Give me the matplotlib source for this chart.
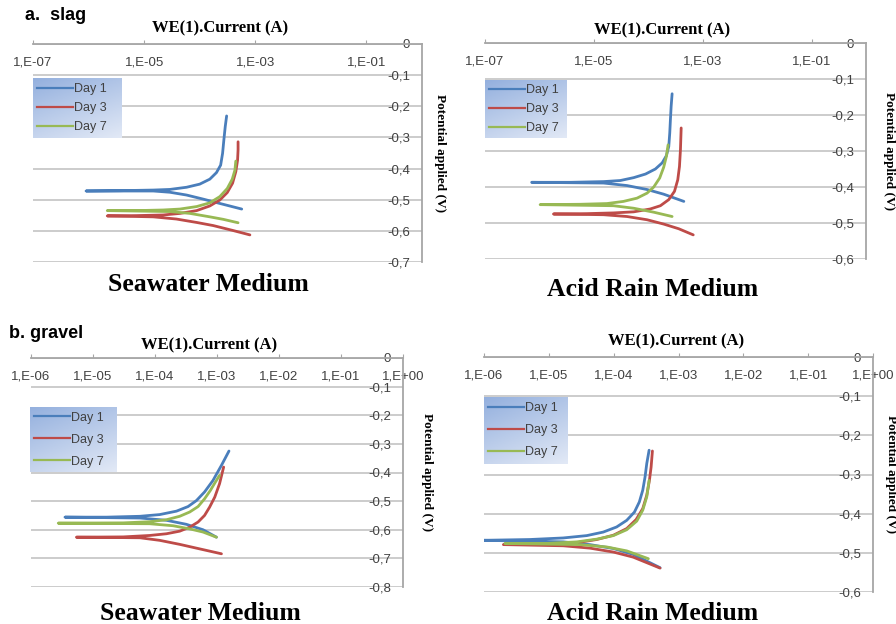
import numpy as np
import matplotlib.pyplot as plt
from matplotlib.lines import Line2D

# ---- data: current (A) and potential (V) ----
# each series runs cathodic end -> corrosion tip -> anodic end
days = ['Day 1', 'Day 3', 'Day 7']

# a. slag, seawater
a_sea_d1_i = [5.7e-4, 2.3e-4, 1.15e-4, 5.8e-5, 2.9e-5, 1.46e-5, 9.0e-7, 3.7e-6, 1.46e-5, 2.9e-5, 5.8e-5, 1.0e-4,
              1.52e-4, 2.0e-4, 2.38e-4, 2.58e-4, 2.72e-4, 2.88e-4, 3.05e-4]
a_sea_d1_e = [-0.530, -0.512, -0.498, -0.485, -0.476, -0.472, -0.472, -0.471, -0.469, -0.467, -0.460, -0.450,
              -0.434, -0.413, -0.389, -0.351, -0.308, -0.265, -0.231]
a_sea_d3_i = [8.0e-4, 4.0e-4, 1.75e-4, 8.8e-5, 3.8e-5, 1.46e-5, 2.17e-6, 7.3e-6, 2.2e-5, 4.4e-5, 8.8e-5, 1.52e-4,
              2.3e-4, 3.13e-4, 3.9e-4, 4.46e-4, 4.8e-4, 4.9e-4, 4.9e-4]
a_sea_d3_e = [-0.613, -0.599, -0.583, -0.573, -0.562, -0.555, -0.552, -0.551, -0.549, -0.544, -0.535, -0.520,
              -0.501, -0.477, -0.447, -0.410, -0.373, -0.340, -0.314]
a_sea_d7_i = [4.9e-4, 2.65e-4, 1.52e-4, 6.7e-5, 2.9e-5, 2.17e-6, 7.3e-6, 2.2e-5, 4.4e-5, 8.8e-5, 1.52e-4, 2.3e-4,
              3.13e-4, 3.85e-4, 4.3e-4, 4.46e-4]
a_sea_d7_e = [-0.574, -0.563, -0.555, -0.544, -0.538, -0.535, -0.535, -0.533, -0.530, -0.522, -0.510, -0.490,
              -0.464, -0.434, -0.405, -0.376]

# a. slag, acid rain
a_acid_d1_i = [4.5e-4, 1.92e-4, 9.5e-5, 4.07e-5, 1.51e-5, 7.2e-7, 3.7e-6, 1.51e-5, 3.06e-5, 5.4e-5, 8.9e-5, 1.35e-4,
               1.8e-4, 2.15e-4, 2.38e-4, 2.48e-4, 2.55e-4, 2.63e-4, 2.74e-4]
a_acid_d1_e = [-0.440, -0.420, -0.407, -0.396, -0.389, -0.387, -0.387, -0.385, -0.382, -0.374, -0.364, -0.350,
               -0.333, -0.313, -0.287, -0.250, -0.213, -0.176, -0.141]
a_acid_d3_i = [6.7e-4, 3.63e-4, 1.92e-4, 9.5e-5, 4.07e-5, 1.51e-5, 1.81e-6, 7.4e-6, 2.3e-5, 5.4e-5, 1.09e-4, 1.67e-4,
               2.38e-4, 3.03e-4, 3.48e-4, 3.74e-4, 3.9e-4, 4.02e-4]
a_acid_d3_e = [-0.533, -0.516, -0.503, -0.491, -0.482, -0.477, -0.475, -0.474, -0.472, -0.469, -0.461, -0.452,
               -0.435, -0.412, -0.380, -0.343, -0.296, -0.236]
a_acid_d7_i = [2.74e-4, 1.26e-4, 5.4e-5, 2.3e-5, 1.03e-6, 5.6e-6, 1.74e-5, 3.5e-5, 6.2e-5, 9.5e-5, 1.26e-4, 1.62e-4,
               1.92e-4, 2.15e-4, 2.31e-4]
a_acid_d7_e = [-0.482, -0.470, -0.459, -0.452, -0.449, -0.448, -0.446, -0.440, -0.431, -0.417, -0.400, -0.375,
               -0.345, -0.315, -0.283]

# b. gravel, seawater
b_sea_d1_i = [9.8e-4, 5.95e-4, 3.2e-4, 1.53e-4, 5.7e-5, 3.53e-6, 1.66e-5, 5.7e-5, 1.19e-4, 2.22e-4, 3.41e-4, 4.66e-4,
              6.3e-4, 8.6e-4, 1.18e-3, 1.56e-3]
b_sea_d1_e = [-0.626, -0.600, -0.581, -0.567, -0.559, -0.556, -0.556, -0.553, -0.547, -0.535, -0.519, -0.498,
              -0.468, -0.428, -0.375, -0.325]
b_sea_d3_i = [1.18e-3, 5.3e-4, 2.5e-4, 1.19e-4, 5.7e-5, 5.4e-6, 3.07e-5, 8.2e-5, 1.53e-4, 2.5e-4, 3.63e-4, 4.95e-4,
              6.3e-4, 7.6e-4, 9.2e-4, 1.1e-3, 1.28e-3]
b_sea_d3_e = [-0.684, -0.667, -0.651, -0.637, -0.628, -0.626, -0.625, -0.620, -0.614, -0.605, -0.591, -0.573,
              -0.550, -0.521, -0.486, -0.439, -0.381]
b_sea_d7_i = [9.8e-4, 5.95e-4, 3.63e-4, 1.96e-4, 8.2e-5, 2.75e-6, 3.07e-5, 8.2e-5, 1.53e-4, 2.5e-4, 3.63e-4, 4.95e-4,
              6.3e-4, 7.8e-4, 9.2e-4, 1.1e-3]
b_sea_d7_e = [-0.626, -0.608, -0.597, -0.586, -0.579, -0.577, -0.576, -0.572, -0.565, -0.553, -0.538, -0.519,
              -0.492, -0.463, -0.437, -0.410]

# b. gravel, acid rain
b_acid_d1_i = [5.2e-4, 2.0e-4, 9.9e-5, 4.3e-5, 1.67e-5, 1.0e-6, 5.1e-6, 1.67e-5, 3.85e-5, 6.9e-5, 1.11e-4, 1.59e-4,
               2.09e-4, 2.49e-4, 2.81e-4, 3.05e-4, 3.24e-4, 3.52e-4]
b_acid_d1_e = [-0.538, -0.504, -0.489, -0.479, -0.472, -0.468, -0.466, -0.462, -0.456, -0.447, -0.434, -0.417,
               -0.396, -0.370, -0.340, -0.306, -0.272, -0.238]
b_acid_d3_i = [5.2e-4, 2.0e-4, 9.9e-5, 4.3e-5, 1.67e-5, 1.99e-6, 9.3e-6, 2.7e-5, 5.5e-5, 9.9e-5, 1.59e-4, 2.22e-4,
               2.81e-4, 3.24e-4, 3.56e-4, 3.78e-4, 3.96e-4]
b_acid_d3_e = [-0.539, -0.511, -0.498, -0.488, -0.482, -0.479, -0.478, -0.474, -0.466, -0.455, -0.438, -0.415,
               -0.387, -0.353, -0.315, -0.281, -0.240]
b_acid_d7_i = [3.43e-4, 1.59e-4, 7.8e-5, 3.03e-5, 2.1e-6, 9.3e-6, 2.7e-5, 5.5e-5, 9.9e-5, 1.59e-4, 2.27e-4, 2.81e-4,
               3.24e-4, 3.52e-4]
b_acid_d7_e = [-0.515, -0.495, -0.485, -0.479, -0.476, -0.476, -0.472, -0.465, -0.456, -0.441, -0.419, -0.391,
               -0.357, -0.315]

# axis ticks
xt_a = [1e-7, 1e-5, 1e-3, 1e-1]
xl_a = ['1,E-07', '1,E-05', '1,E-03', '1,E-01']
xt_b = [1e-6, 1e-5, 1e-4, 1e-3, 1e-2, 1e-1, 1e0]
xl_b = ['1,E-06', '1,E-05', '1,E-04', '1,E-03', '1,E-02', '1,E-01', '1,E+00']
yt_07 = [0, -0.1, -0.2, -0.3, -0.4, -0.5, -0.6, -0.7]
yt_06 = [0, -0.1, -0.2, -0.3, -0.4, -0.5, -0.6]
yt_08 = [0, -0.1, -0.2, -0.3, -0.4, -0.5, -0.6, -0.7, -0.8]

# ---- figure ----
W, H = 896, 624
fig = plt.figure(figsize=(W / 100, H / 100), dpi=100)

def box(x0, y0, x1, y1):
    return [x0 / W, 1 - y1 / H, (x1 - x0) / W, (y1 - y0) / H]

def fxy(x, y):
    return x / W, 1 - y / H

colors = ['#4a7ebb', '#be4b48', '#98b954']
serif = 'Liberation Serif'
sans = 'Liberation Sans'
tick_col = '#404040'

panels = [
    dict(rect=box(33, 44, 422, 262), xlim=(1e-7, 1), yt=yt_07, xt=xt_a, xl=xl_a,
         series=[(a_sea_d1_i, a_sea_d1_e), (a_sea_d3_i, a_sea_d3_e), (a_sea_d7_i, a_sea_d7_e)],
         leg=box(33, 78, 122, 138), lsp=0.55, title=(220, 28), medium='Seawater Medium',
         med=(208, 285), ylx=1.046),
    dict(rect=box(485, 43, 866, 259), xlim=(1e-7, 1), yt=yt_06, xt=xt_a, xl=xl_a,
         series=[(a_acid_d1_i, a_acid_d1_e), (a_acid_d3_i, a_acid_d3_e), (a_acid_d7_i, a_acid_d7_e)],
         leg=box(485, 80, 567, 138), lsp=0.55, title=(662, 30), medium='Acid Rain Medium',
         med=(653, 289), ylx=1.06),
    dict(rect=box(31, 358, 403, 587), xlim=(1e-6, 1), yt=yt_08, xt=xt_b, xl=xl_b,
         series=[(b_sea_d1_i, b_sea_d1_e), (b_sea_d3_i, b_sea_d3_e), (b_sea_d7_i, b_sea_d7_e)],
         leg=box(30, 407, 116, 472), lsp=0.8, title=(209, 345), medium='Seawater Medium',
         med=(200, 614), ylx=1.065),
    dict(rect=box(484, 357, 873, 592), xlim=(1e-6, 1), yt=yt_06, xt=xt_b, xl=xl_b,
         series=[(b_acid_d1_i, b_acid_d1_e), (b_acid_d3_i, b_acid_d3_e), (b_acid_d7_i, b_acid_d7_e)],
         leg=box(484, 397, 567, 464), lsp=0.8, title=(676, 341), medium='Acid Rain Medium',
         med=(653, 614), ylx=1.046),
]

# legend background gradient (dark blue top-left -> pale bottom-right)
gx, gy = np.meshgrid(np.linspace(0, 1, 60), np.linspace(0, 1, 40))
g = (0.35 * gx + 0.65 * gy)[..., None]
c0 = np.array([148, 176, 222]) / 255
c1 = np.array([226, 233, 246]) / 255
grad = c0 * (1 - g) + c1 * g

for p in panels:
    ax = fig.add_axes(p['rect'])
    ax.patch.set_alpha(0)
    for (i, e), c in zip(p['series'], colors):
        ax.plot(i, e, color=c, lw=2.0, solid_joinstyle='round', solid_capstyle='round')

    ax.set_xscale('log')
    ax.set_xlim(*p['xlim'])
    ax.set_ylim(p['yt'][-1], 0)
    ax.set_xticks(p['xt'])
    ax.set_xticklabels(p['xl'])
    ax.xaxis.set_minor_locator(plt.NullLocator())
    ax.set_yticks(p['yt'])
    ax.set_yticklabels(['0' if v == 0 else f'{v:.1f}'.replace('.', ',') for v in p['yt']])

    for s in ['left', 'bottom']:
        ax.spines[s].set_visible(False)
    for s in ['top', 'right']:
        ax.spines[s].set_color('#a6a6a6')
        ax.spines[s].set_linewidth(1.3)
    ax.yaxis.grid(True, color='#c8c8c8', lw=1.3)
    ax.set_axisbelow(True)

    ax.tick_params(axis='x', which='major', top=True, bottom=False, labeltop=True,
                   labelbottom=False, direction='out', length=3, color='#a6a6a6',
                   pad=-16, labelsize=9.5, labelcolor=tick_col)
    ax.tick_params(axis='y', left=False, right=False, labelleft=False, labelright=True,
                   pad=-12, labelsize=9.5, labelcolor=tick_col)
    plt.setp(ax.get_xticklabels(), va='center', family=sans)
    plt.setp(ax.get_yticklabels(), ha='right', family=sans)

    ax.yaxis.set_label_position('right')
    ax.set_ylabel('Potential applied (V)', rotation=270, va='center',
                  family=serif, fontweight='bold', fontsize=9.5)
    ax.yaxis.set_label_coords(p['ylx'], 0.5)

    tx, ty = fxy(*p['title'])
    fig.text(tx, ty, 'WE(1).Current (A)', ha='center', va='center',
             family=serif, fontweight='bold', fontsize=12)
    mx, my = fxy(*p['med'])
    fig.text(mx, my, p['medium'], ha='center', va='center',
             family=serif, fontweight='bold', fontsize=18.5)

    lax = fig.add_axes(p['leg'])
    lax.imshow(grad, aspect='auto', extent=[0, 1, 0, 1])
    lax.axis('off')
    handles = [Line2D([], [], color=c, lw=1.6) for c in colors]
    leg = lax.legend(handles, days, loc='center left', frameon=False, fontsize=9,
                     handlelength=2.9, handletextpad=0.1, labelspacing=p['lsp'],
                     borderaxespad=0.1, borderpad=0.2)
    for t in leg.get_texts():
        t.set_color(tick_col)
        t.set_family(sans)

fig.text(*fxy(25, 16), 'a.  slag', ha='left', va='center', family=sans,
         fontweight='bold', fontsize=13)
fig.text(*fxy(9, 333), 'b. gravel', ha='left', va='center', family=sans,
         fontweight='bold', fontsize=13)

fig.savefig('out.png', dpi=100)
